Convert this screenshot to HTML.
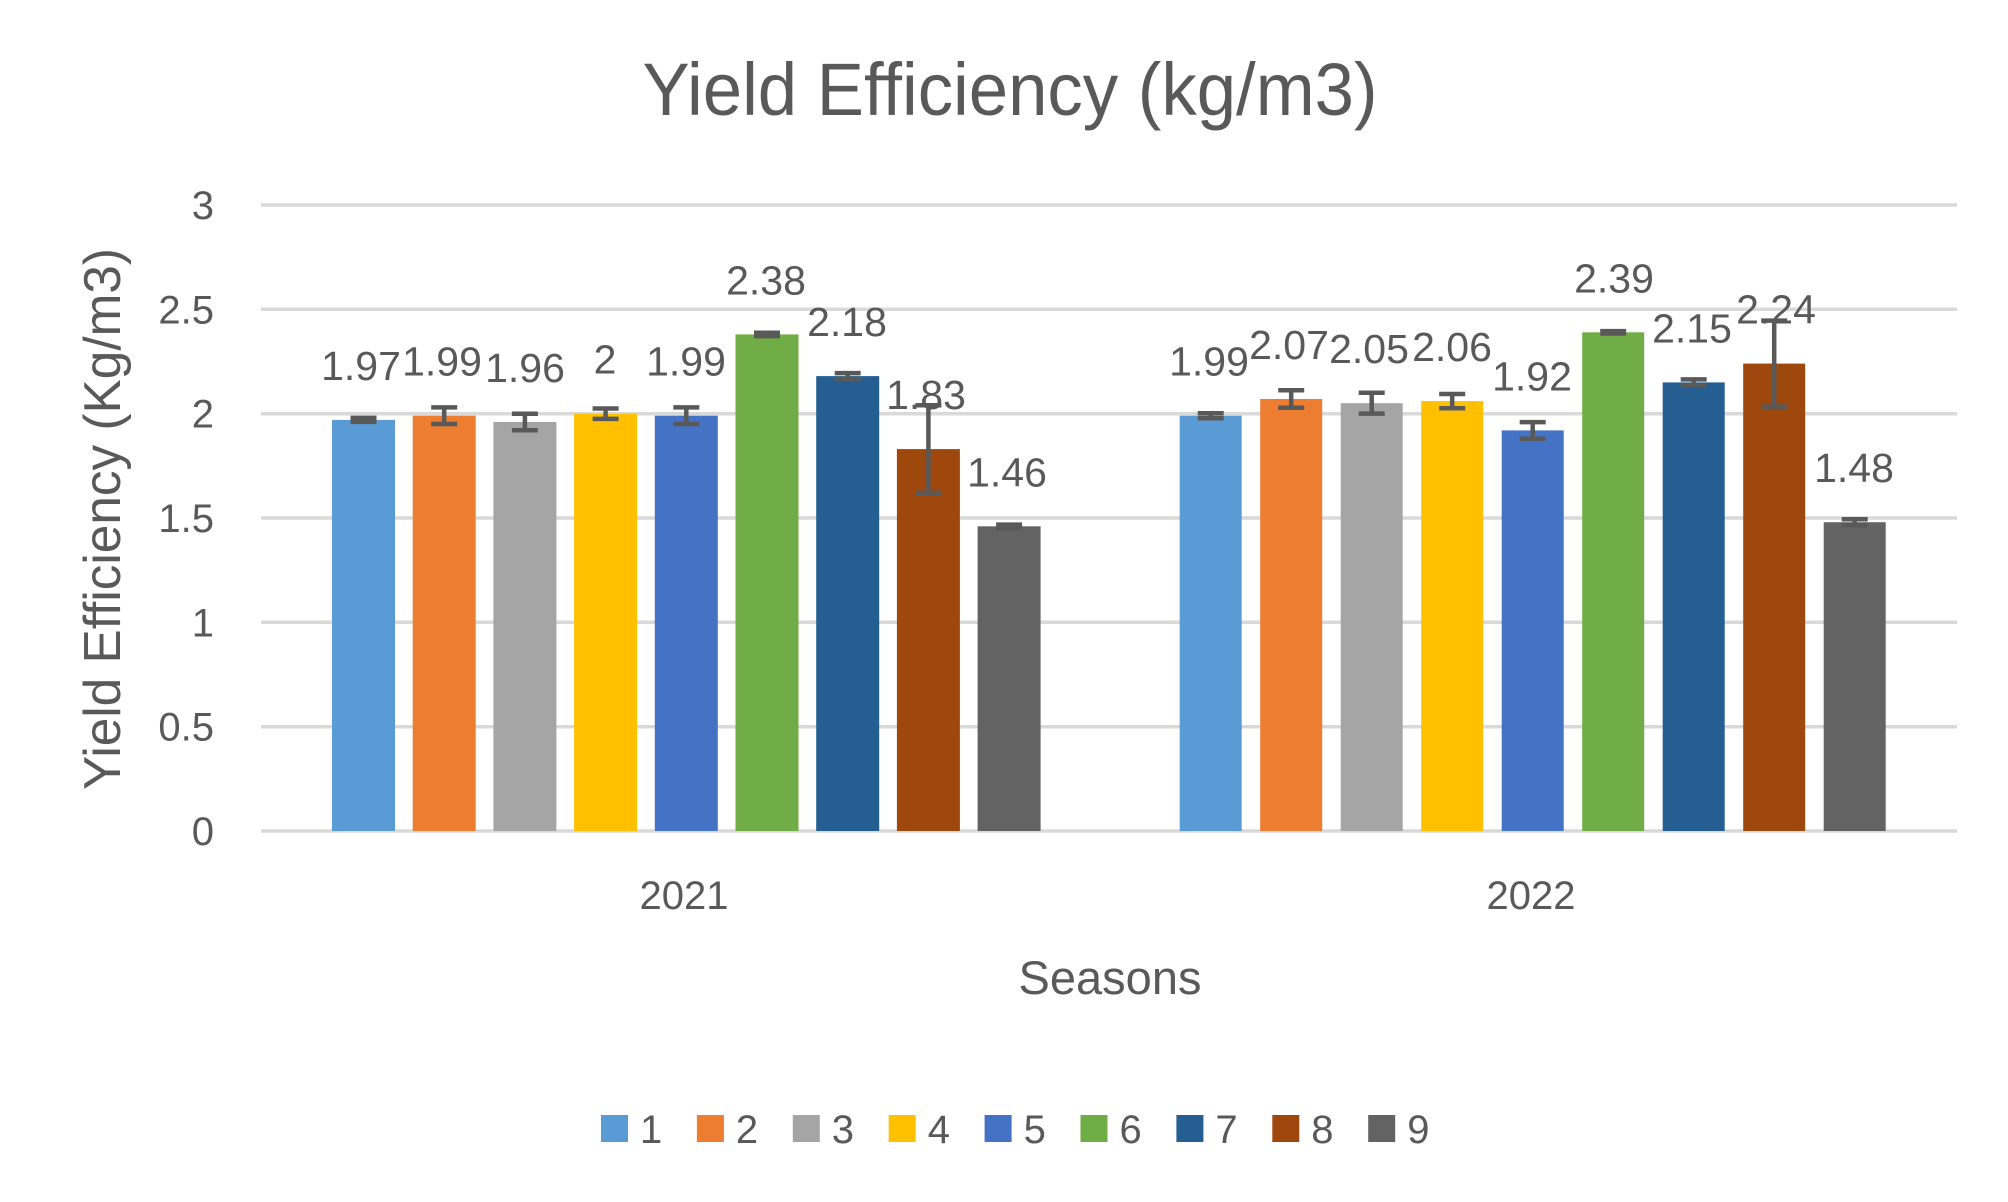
<!DOCTYPE html>
<html>
<head>
<meta charset="utf-8">
<style>
  html, body { margin: 0; padding: 0; background: #ffffff; }
  body { width: 2008px; height: 1202px; overflow: hidden; }
  svg { display: block; }
  text { font-family: "Liberation Sans", Arial, sans-serif; fill: #595959; }
</style>
</head>
<body>
<svg width="2008" height="1202" viewBox="0 0 2008 1202" xmlns="http://www.w3.org/2000/svg">
  <rect x="0" y="0" width="2008" height="1202" fill="#ffffff"/>

  <!-- Title -->
  <text x="1010" y="115" font-size="74" text-anchor="middle" textLength="735" lengthAdjust="spacingAndGlyphs">Yield Efficiency (kg/m3)</text>

  <!-- Gridlines -->
  <g stroke="#D9D9D9" stroke-width="3.5">
    <line x1="261" y1="205" x2="1957" y2="205"/>
    <line x1="261" y1="309.3" x2="1957" y2="309.3"/>
    <line x1="261" y1="413.7" x2="1957" y2="413.7"/>
    <line x1="261" y1="518" x2="1957" y2="518"/>
    <line x1="261" y1="622.3" x2="1957" y2="622.3"/>
    <line x1="261" y1="726.7" x2="1957" y2="726.7"/>
    <line x1="261" y1="831" x2="1957" y2="831"/>
  </g>

  <!-- Y tick labels -->
  <g font-size="40" text-anchor="end">
    <text x="214" y="219">3</text>
    <text x="214" y="323.3">2.5</text>
    <text x="214" y="427.7">2</text>
    <text x="214" y="532">1.5</text>
    <text x="214" y="636.3">1</text>
    <text x="214" y="740.7">0.5</text>
    <text x="214" y="845">0</text>
  </g>

  <!-- Y axis title -->
  <text transform="translate(120,519) rotate(-90)" font-size="52" text-anchor="middle" textLength="542" lengthAdjust="spacingAndGlyphs">Yield Efficiency (Kg/m3)</text>

  <!-- Bars 2021 -->
  <rect x="332" y="419.9" width="63" height="411.1" fill="#5B9BD5"/>
  <rect x="412.7" y="415.7" width="63" height="415.3" fill="#ED7D31"/>
  <rect x="493.4" y="422.0" width="63" height="409.0" fill="#A5A5A5"/>
  <rect x="574.1" y="413.7" width="63" height="417.3" fill="#FFC000"/>
  <rect x="654.8" y="415.7" width="63" height="415.3" fill="#4472C4"/>
  <rect x="735.5" y="334.4" width="63" height="496.6" fill="#70AD47"/>
  <rect x="816.2" y="376.1" width="63" height="454.9" fill="#255E91"/>
  <rect x="896.9" y="449.1" width="63" height="381.9" fill="#9E480E"/>
  <rect x="977.6" y="526.3" width="63" height="304.7" fill="#636363"/>

  <!-- Bars 2022 -->
  <rect x="1179.7" y="415.7" width="62" height="415.3" fill="#5B9BD5"/>
  <rect x="1260.2" y="399.0" width="62" height="432.0" fill="#ED7D31"/>
  <rect x="1340.7" y="403.2" width="62" height="427.8" fill="#A5A5A5"/>
  <rect x="1421.2" y="401.1" width="62" height="429.9" fill="#FFC000"/>
  <rect x="1501.7" y="430.4" width="62" height="400.6" fill="#4472C4"/>
  <rect x="1582.2" y="332.3" width="62" height="498.7" fill="#70AD47"/>
  <rect x="1662.7" y="382.4" width="62" height="448.6" fill="#255E91"/>
  <rect x="1743.2" y="363.6" width="62" height="467.4" fill="#9E480E"/>
  <rect x="1823.7" y="522.2" width="62" height="308.8" fill="#636363"/>

  <!-- Error bars -->
  <g stroke="#595959" stroke-width="4.5" fill="none">
    <!-- 2021 -->
    <path d="M363.5 417.9 V421.9 M350.5 417.9 H376.5 M350.5 421.9 H376.5"/>
    <path d="M444.2 407.4 V424.0 M431.2 407.4 H457.2 M431.2 424.0 H457.2"/>
    <path d="M524.9 413.7 V430.3 M511.9 413.7 H537.9 M511.9 430.3 H537.9"/>
    <path d="M605.6 408.5 V418.9 M592.6 408.5 H618.6 M592.6 418.9 H618.6"/>
    <path d="M686.3 407.4 V424.0 M673.3 407.4 H699.3 M673.3 424.0 H699.3"/>
    <path d="M767 332.7 V336.1 M754 332.7 H780 M754 336.1 H780"/>
    <path d="M847.7 373.1 V379.1 M834.7 373.1 H860.7 M834.7 379.1 H860.7"/>
    <path d="M928.4 405.3 V492.9 M915.4 405.3 H941.4 M915.4 492.9 H941.4"/>
    <path d="M1009.1 524.6 V528.0 M996.1 524.6 H1022.1 M996.1 528.0 H1022.1"/>
    <!-- 2022 -->
    <path d="M1210.7 413.2 V418.2 M1197.7 413.2 H1223.7 M1197.7 418.2 H1223.7"/>
    <path d="M1291.2 390.2 V407.8 M1278.2 390.2 H1304.2 M1278.2 407.8 H1304.2"/>
    <path d="M1371.7 392.8 V413.6 M1358.7 392.8 H1384.7 M1358.7 413.6 H1384.7"/>
    <path d="M1452.2 394.0 V408.2 M1439.2 394.0 H1465.2 M1439.2 408.2 H1465.2"/>
    <path d="M1532.7 422.1 V438.7 M1519.7 422.1 H1545.7 M1519.7 438.7 H1545.7"/>
    <path d="M1613.2 331.1 V333.5 M1600.2 331.1 H1626.2 M1600.2 333.5 H1626.2"/>
    <path d="M1693.7 379.4 V385.4 M1680.7 379.4 H1706.7 M1680.7 385.4 H1706.7"/>
    <path d="M1774.2 320.6 V406.6 M1761.2 320.6 H1787.2 M1761.2 406.6 H1787.2"/>
    <path d="M1854.7 519.2 V525.2 M1841.7 519.2 H1867.7 M1841.7 525.2 H1867.7"/>
  </g>

  <!-- Data labels -->
  <g font-size="41" text-anchor="middle">
    <text x="361" y="379.9">1.97</text>
    <text x="442" y="375.7">1.99</text>
    <text x="525" y="382.0">1.96</text>
    <text x="605" y="373.7">2</text>
    <text x="686" y="375.7">1.99</text>
    <text x="766" y="294.4">2.38</text>
    <text x="847" y="336.1">2.18</text>
    <text x="926" y="409.1">1.83</text>
    <text x="1007" y="486.3">1.46</text>

    <text x="1209" y="375.7">1.99</text>
    <text x="1289" y="359.0">2.07</text>
    <text x="1369" y="363.2">2.05</text>
    <text x="1452" y="361.1">2.06</text>
    <text x="1532" y="390.4">1.92</text>
    <text x="1614" y="292.3">2.39</text>
    <text x="1692" y="342.4">2.15</text>
    <text x="1776" y="323.6">2.24</text>
    <text x="1854" y="482.2">1.48</text>
  </g>

  <!-- X category labels -->
  <g font-size="40" text-anchor="middle">
    <text x="684" y="909">2021</text>
    <text x="1531" y="909">2022</text>
  </g>

  <!-- X axis title -->
  <text x="1110" y="994" font-size="47" text-anchor="middle">Seasons</text>

  <!-- Legend -->
  <g>
    <rect x="601" y="1115" width="27" height="27" fill="#5B9BD5"/>
    <rect x="696.9" y="1115" width="27" height="27" fill="#ED7D31"/>
    <rect x="792.8" y="1115" width="27" height="27" fill="#A5A5A5"/>
    <rect x="888.7" y="1115" width="27" height="27" fill="#FFC000"/>
    <rect x="984.6" y="1115" width="27" height="27" fill="#4472C4"/>
    <rect x="1080.5" y="1115" width="27" height="27" fill="#70AD47"/>
    <rect x="1176.4" y="1115" width="27" height="27" fill="#255E91"/>
    <rect x="1272.3" y="1115" width="27" height="27" fill="#9E480E"/>
    <rect x="1368.2" y="1115" width="27" height="27" fill="#636363"/>
  </g>
  <g font-size="40">
    <text x="640" y="1143">1</text>
    <text x="735.9" y="1143">2</text>
    <text x="831.8" y="1143">3</text>
    <text x="927.7" y="1143">4</text>
    <text x="1023.6" y="1143">5</text>
    <text x="1119.5" y="1143">6</text>
    <text x="1215.4" y="1143">7</text>
    <text x="1311.3" y="1143">8</text>
    <text x="1407.2" y="1143">9</text>
  </g>
</svg>
</body>
</html>
